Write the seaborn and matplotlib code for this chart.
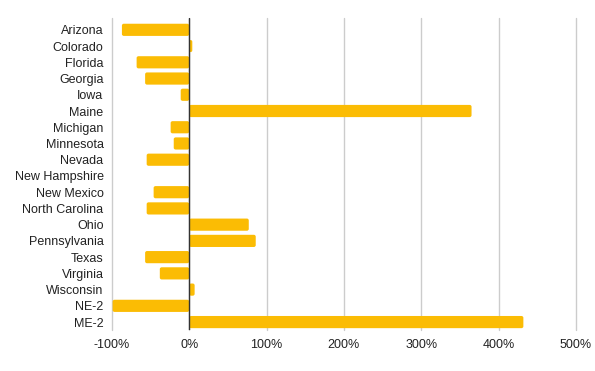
import pandas as pd
import matplotlib.pyplot as plt
import seaborn as sns
from matplotlib.patches import FancyBboxPatch

states = ['Arizona', 'Colorado', 'Florida', 'Georgia', 'Iowa', 'Maine', 'Michigan',
          'Minnesota', 'Nevada', 'New Hampshire', 'New Mexico', 'North Carolina',
          'Ohio', 'Pennsylvania', 'Texas', 'Virginia', 'Wisconsin', 'NE-2', 'ME-2']
change = [-87, 4, -68, -57, -11, 365, -24, -20, -55, 0, -46, -55,
          77, 86, -57, -38, 7, -99, 432]
ticks = [-100, 0, 100, 200, 300, 400, 500]

df = pd.DataFrame({'State': states, 'Change': change})

sns.set_theme(style="white")
plt.rcParams['font.family'] = ['Liberation Sans', 'DejaVu Sans']

fig = plt.figure(figsize=(5.95, 3.71), dpi=100)
ax = fig.add_axes([0.188, 0.11, 0.78, 0.842])

sns.barplot(data=df, x='Change', y='State', color='#fbbc04', saturation=1,
            width=0.75, orient='h', ax=ax)

# rounded bar corners like the original
for p in list(ax.patches):
    x0, y0, w, h = p.get_x(), p.get_y(), p.get_width(), p.get_height()
    if w == 0:
        p.remove()
        continue
    if w < 0:
        x0, w = x0 + w, -w
    rb = FancyBboxPatch((x0, y0), w, h, boxstyle='round,pad=0,rounding_size=2.5',
                        mutation_aspect=0.045, facecolor='#fbbc04', edgecolor='none')
    p.remove()
    ax.add_patch(rb)

ax.set_xlim(-100, 500)
ax.set_ylim(18.5, -0.74)
ax.set_xticks(ticks)
ax.set_xticklabels([f'{t}%' for t in ticks], fontsize=9, color='#222222')
ax.tick_params(axis='y', labelsize=9, labelcolor='#222222', length=0, pad=6)
ax.tick_params(axis='x', length=0, pad=6)
ax.set_xlabel('')
ax.set_ylabel('')
ax.grid(axis='x', color='#cccccc', linewidth=1)
for gl in ax.get_xgridlines():
    gl.set_clip_on(False)
ax.set_axisbelow(True)
ax.axvline(0, color='#333333', linewidth=1, zorder=3)
for s in ax.spines.values():
    s.set_visible(False)

fig.savefig('out.png', dpi=100)
